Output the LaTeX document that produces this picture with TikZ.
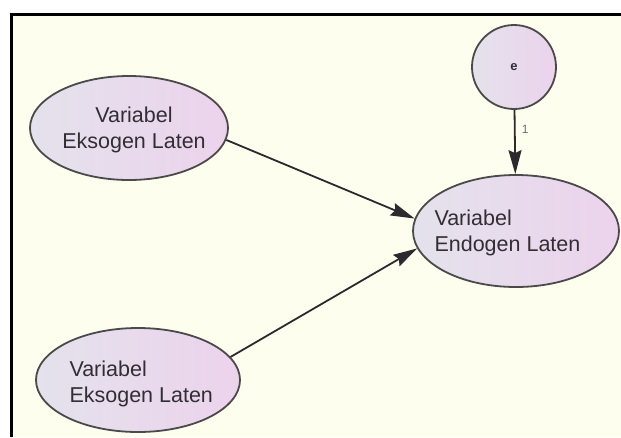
\documentclass[tikz,border=0pt]{standalone}
\usepackage{fontspec}
\setmainfont{Liberation Sans}
\usepackage{tikz}
\usetikzlibrary{calc}
\usetikzlibrary{shapes.geometric}
\usetikzlibrary{arrows.meta}

\definecolor{paper}{RGB}{254,254,238}
\definecolor{fillleft}{RGB}{228,226,236}
\definecolor{fillright}{RGB}{236,211,236}
\definecolor{rim}{RGB}{74,74,74}
\definecolor{ink}{RGB}{50,46,52}

\begin{document}
\begin{tikzpicture}[x=1pt,y=-1pt,
    latent/.style={ellipse, draw=rim, line width=1.8pt, left color=fillleft,
        right color=fillright, inner sep=0pt},
    lbl/.style={text=ink, font=\fontsize{21.5}{26}\selectfont},
    conn/.style={draw=ink!90!black, line width=1.8pt,
        -{Stealth[length=24pt,width=13pt,inset=3pt]}}]
                    \useasboundingbox (0,0) rectangle (621,437);

                    % The frame
                    \fill[paper] (11,14) rectangle (621,437);
                    \draw[line width=3pt] (11,437) -- (11,14) -- (621,14);

                    % Coordinates of the centres
                    \coordinate (P) at (129,128);
                    \coordinate (Q) at (138,380);
                    \coordinate (R) at (516,231);
                    \coordinate (S) at (514,67);

                    % The variables
                    \node[latent, minimum width=198pt, minimum height=104pt] (eks1) at (P) {};
                    \node[latent, minimum width=204pt, minimum height=104pt] (eks2) at (Q) {};
                    \node[latent, minimum width=206pt, minimum height=112pt] (endo) at (R) {};
                    \node[latent, minimum size=84pt] (err) at (S) {};

                    % The texts
                    \node[lbl, align=center] (eks1txt) at (134,130) {Variabel\\Eksogen Laten};
                    \node[lbl, align=left, anchor=west] (eks2txt) at (66,384) {Variabel\\Eksogen Laten};
                    \node[lbl, align=left, anchor=west] (endotxt) at (431,233) {Variabel\\Endogen Laten};
                    \node[text=ink, font=\bfseries\fontsize{13}{13}\selectfont] (errtxt) at (S) {e};

                    % The paths
                    \draw[conn] (eks1.-7) -- (endo.173);
                    \draw[conn] (eks2.14) -- (endo.190);
                    \draw[conn] (err) -- (endo)
                        node[pos=0.3, right=3pt, text=ink!70, font=\fontsize{12}{12}\selectfont] {1};
                \end{tikzpicture}
\end{document}
